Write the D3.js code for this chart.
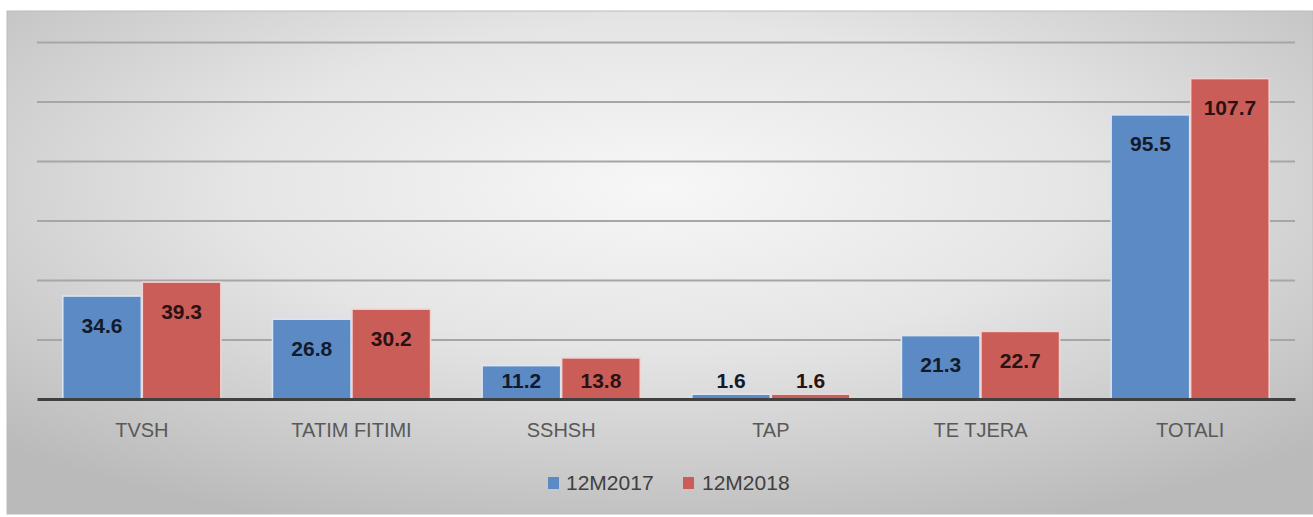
<!DOCTYPE html>
<html><head><meta charset="utf-8">
<script src="https://cdn.jsdelivr.net/npm/d3@7"></script>
<style>html,body{margin:0;padding:0;background:#fff;}svg{display:block;}</style>
</head><body>
<script>
const categories = ["TVSH", "TATIM FITIMI", "SSHSH", "TAP", "TE TJERA", "TOTALI"];
const seriesNames = ["12M2017", "12M2018"];
const values2017 = [34.6, 26.8, 11.2, 1.6, 21.3, 95.5];
const values2018 = [39.3, 30.2, 13.8, 1.6, 22.7, 107.7];
const yTicks = [0, 20, 40, 60, 80, 100, 120];
const colors = ["#5b8ac4", "#cb5d58"];
const labelColors = ["#121a2c", "#2a1212"];

const W = 1313, H = 517;
const svg = d3.select("body").append("svg").attr("width", W).attr("height", H);
const defs = svg.append("defs");
const rg = defs.append("radialGradient").attr("id", "bg")
  .attr("cx", "50%").attr("cy", "35%").attr("r", "72%");
rg.append("stop").attr("offset", "0%").attr("stop-color", "#f7f7f7");
rg.append("stop").attr("offset", "45%").attr("stop-color", "#e5e5e5");
rg.append("stop").attr("offset", "100%").attr("stop-color", "#bababa");

svg.append("rect").attr("x", 7).attr("y", 11).attr("width", W - 7).attr("height", H - 14)
  .attr("fill", "url(#bg)").attr("stroke", "#bcbcbc").attr("stroke-width", 1);

const x0 = d3.scaleBand().domain(categories).range([37, 1295]).paddingInner(0).paddingOuter(0);
const groupPad = 25.8;
const x1 = d3.scaleBand().domain(seriesNames).range([0, x0.bandwidth() - 2 * groupPad]).paddingInner(0.0127);
const y = d3.scaleLinear().domain([0, 120]).range([399, 42]);

// gridlines
const yAxis = d3.axisLeft(y).tickValues(yTicks.filter(t => t > 0)).tickSize(-(1295 - 37)).tickFormat("");
const gy = svg.append("g").attr("transform", "translate(37,0)").call(yAxis);
gy.select(".domain").remove();
gy.selectAll(".tick line").attr("stroke", "#a6a6a6").attr("stroke-width", 2);

const data = categories.map((c, i) => ({ cat: c, vals: [values2017[i], values2018[i]] }));
const groups = svg.append("g").selectAll("g").data(data).join("g")
  .attr("transform", d => `translate(${x0(d.cat) + groupPad},0)`);

groups.selectAll("rect").data(d => d.vals.map((v, k) => ({ v, k, s: seriesNames[k] }))).join("rect")
  .attr("x", d => x1(d.s)).attr("width", x1.bandwidth())
  .attr("y", d => y(d.v)).attr("height", d => y(0) - y(d.v))
  .attr("fill", d => colors[d.k])
  .attr("stroke", d => d.k === 0 ? "#dbe6f4" : "#f2d3d2").attr("stroke-width", 1.5);

groups.selectAll("text").data(d => d.vals.map((v, k) => ({ v, k, s: seriesNames[k] }))).join("text")
  .attr("x", d => x1(d.s) + x1.bandwidth() / 2)
  .attr("y", d => Math.min(y(d.v) + 29, 380) + 7.5)
  .attr("text-anchor", "middle")
  .attr("font-family", "'Liberation Sans', Arial, sans-serif")
  .attr("font-weight", "bold").attr("font-size", 21)
  .attr("fill", d => labelColors[d.k])
  .text(d => d.v.toFixed(1));

// x axis baseline and labels
const xAxis = d3.axisBottom(x0).tickSize(0).tickPadding(0);
const gx = svg.append("g").attr("transform", `translate(0,${y(0)})`).call(xAxis);
gx.select(".domain").attr("stroke", "#404040").attr("stroke-width", 3);
gx.selectAll(".tick text").attr("dy", 0).attr("y", 38)
  .attr("font-family", "'Liberation Sans', Arial, sans-serif")
  .attr("font-size", 20).attr("fill", "#595959");

// legend
const legend = svg.append("g");
const legendItems = [{ name: seriesNames[0], x: 548, tx: 566 }, { name: seriesNames[1], x: 683, tx: 702 }];
legendItems.forEach((it, k) => {
  legend.append("rect").attr("x", it.x).attr("y", 477).attr("width", 11).attr("height", 12).attr("fill", colors[k]);
  legend.append("text").attr("x", it.tx).attr("y", 490)
    .attr("font-family", "'Liberation Sans', Arial, sans-serif")
    .attr("font-size", 21).attr("fill", "#404040").text(it.name);
});
</script>
</body></html>
